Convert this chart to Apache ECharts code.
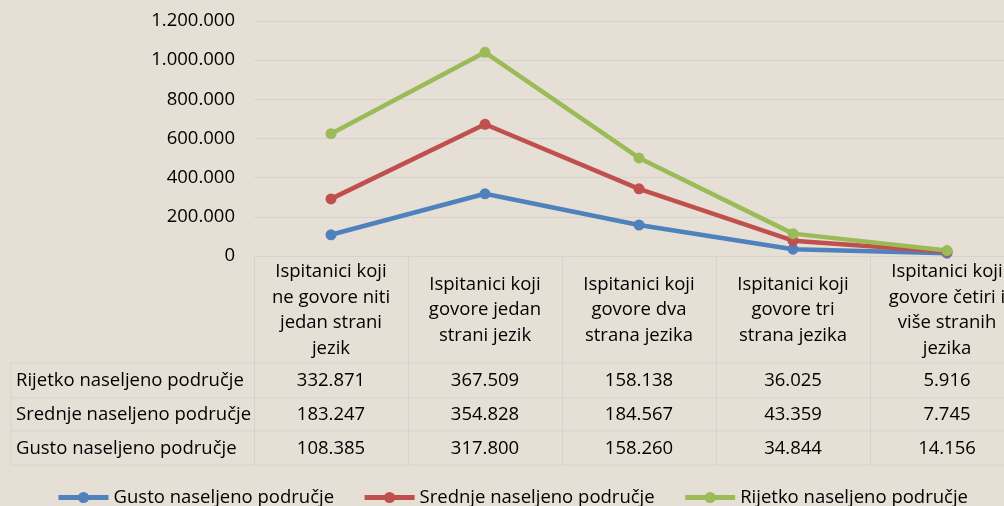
<!DOCTYPE html>
<html>
<head>
<meta charset="utf-8">
<script src="https://cdn.jsdelivr.net/npm/echarts@6/dist/echarts.min.js"></script>
<style>
html, body { margin: 0; padding: 0; overflow: hidden; background: #e6dfd5; }
#chart { width: 1024px; height: 506px; }
</style>
</head>
<body>
<div id="chart"></div>
<script>
var categories = [
    'Ispitanici koji\nne govore niti\njedan strani\njezik',
    'Ispitanici koji\ngovore jedan\nstrani jezik',
    'Ispitanici koji\ngovore dva\nstrana jezika',
    'Ispitanici koji\ngovore tri\nstrana jezika',
    'Ispitanici koji\ngovore četiri i\nviše stranih\njezika'
];
var gusto = [108385, 317800, 158260, 34844, 14156];
var srednje = [183247, 354828, 184567, 43359, 7745];
var rijetko = [332871, 367509, 158138, 36025, 5916];
var yTicks = [0, 200000, 400000, 600000, 800000, 1000000, 1200000];

var seriesNames = ['Gusto naseljeno područje', 'Srednje naseljeno područje', 'Rijetko naseljeno područje'];
var colors = ['#4f81bd', '#c0504d', '#9bbb59'];
var font = 'Open Sans';
var fs = 18.5;
var txtColor = '#000';
var gridColor = '#d6d3cf';

// broj s tockom kao separatorom tisucica
function fmt(v) {
    return String(v).replace(/\B(?=(\d{3})+(?!\d))/g, '.');
}

var chart = echarts.init(document.getElementById('chart'));

// redovi tablice ispod grafa
var tableRows = [
    { name: seriesNames[2], data: rijetko, offset: 125 },
    { name: seriesNames[1], data: srednje, offset: 159 },
    { name: seriesNames[0], data: gusto, offset: 193 }
];

var xAxes = [{
    type: 'category',
    data: categories,
    boundaryGap: true,
    axisLine: { show: true, lineStyle: { color: gridColor, width: 1 } },
    axisTick: { show: true, alignWithLabel: false, length: 209, lineStyle: { color: gridColor, width: 1 } },
    axisLabel: {
        interval: 0, margin: 54, verticalAlign: 'middle',
        fontFamily: font, fontSize: fs, lineHeight: 25.5, color: txtColor
    }
}];
tableRows.forEach(function(r) {
    xAxes.push({
        type: 'category',
        position: 'bottom',
        offset: r.offset,
        data: r.data.map(fmt),
        name: r.name,
        nameLocation: 'start',
        nameGap: 238,
        nameTextStyle: { align: 'left', verticalAlign: 'middle', fontFamily: font, fontSize: fs, color: txtColor },
        axisLine: { show: false },
        axisTick: { show: false },
        axisLabel: { interval: 0, margin: 0, verticalAlign: 'middle', fontFamily: font, fontSize: fs, color: txtColor }
    });
});

var tableLines = [];
[363, 398, 431, 465].forEach(function(y) {
    tableLines.push({ type: 'line', shape: { x1: 11, y1: y, x2: 1024, y2: y }, style: { stroke: gridColor, lineWidth: 1 }, silent: true });
});
tableLines.push({ type: 'line', shape: { x1: 11, y1: 363, x2: 11, y2: 465 }, style: { stroke: gridColor, lineWidth: 1 }, silent: true });

chart.setOption({
    backgroundColor: '#e6dfd5',
    animation: false,
    color: colors,
    grid: { left: 254, right: 0, top: 21, bottom: 250 },
    legend: {
        data: seriesNames,
        left: 'center',
        top: 483,
        itemWidth: 50,
        itemHeight: 14,
        itemGap: 28,
        lineStyle: { width: 5 },
        textStyle: { fontFamily: font, fontSize: fs, color: txtColor }
    },
    xAxis: xAxes,
    yAxis: {
        type: 'value',
        min: yTicks[0],
        max: yTicks[yTicks.length - 1],
        interval: yTicks[1] - yTicks[0],
        axisLine: { show: false },
        axisTick: { show: false },
        axisLabel: { margin: 19, fontFamily: font, fontSize: fs, color: txtColor, formatter: function(v) { return fmt(v); } },
        splitLine: { lineStyle: { color: gridColor, width: 1 } }
    },
    graphic: tableLines,
    series: [
        { name: seriesNames[0], data: gusto },
        { name: seriesNames[1], data: srednje },
        { name: seriesNames[2], data: rijetko }
    ].map(function(s) {
        return {
            name: s.name,
            type: 'line',
            stack: 'ukupno',
            data: s.data,
            symbol: 'circle',
            symbolSize: 11,
            lineStyle: { width: 4.5 },
            emphasis: { disabled: true }
        };
    })
});
</script>
</body>
</html>
